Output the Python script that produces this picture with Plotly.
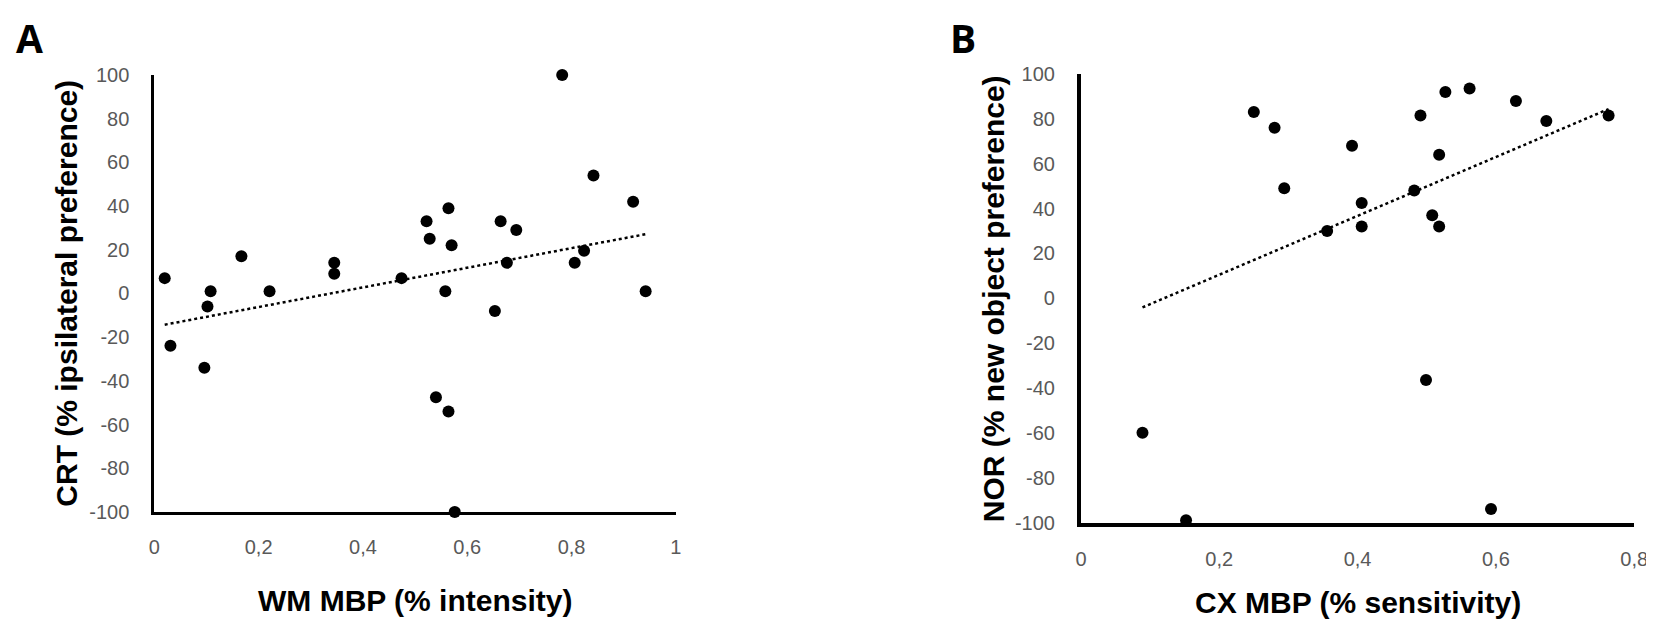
import numpy as np
import plotly.graph_objects as go

# ---------------- data ----------------
wm_mbp = [0.02, 0.031, 0.096, 0.102, 0.108, 0.167, 0.221, 0.345, 0.345, 0.474,
          0.522, 0.528, 0.54, 0.558, 0.564, 0.564, 0.57, 0.576, 0.653, 0.664,
          0.676, 0.694, 0.782, 0.806, 0.824, 0.842, 0.918, 0.942]
crt = [7, -24, -34, -6, 1, 17, 1, 14, 9, 7,
       33, 25, -47.5, 1, 39, -54, 22, -100, -8, 33,
       14, 29, 100, 14, 19.5, 54, 42, 1]

cx_mbp = [0.089, 0.152, 0.25, 0.28, 0.28, 0.294, 0.356, 0.392, 0.406, 0.406,
          0.482, 0.491, 0.499, 0.508, 0.518, 0.518, 0.527, 0.562, 0.593, 0.629,
          0.651, 0.673, 0.763]
nor = [-60, -99, 83, 102, 76, 49, 30, 68, 42.5, 32,
       48, 81.5, -36.5, 37, 64, 32, 92, 93.5, -94, 88,
       102, 79, 81.5]

y_ticks = [-100, -80, -60, -40, -20, 0, 20, 40, 60, 80, 100]
y_ticktext = ["-100", "-80", "-60", "-40", "-20", "0", "20", "40", "60", "80", "100"]
xa_ticks = [0, 0.2, 0.4, 0.6, 0.8, 1.0]
xa_ticktext = ["0", "0,2", "0,4", "0,6", "0,8", "1"]
xb_ticks = [0, 0.2, 0.4, 0.6, 0.8]
xb_ticktext = ["0", "0,2", "0,4", "0,6", "0,8"]

labels = {"A": ("WM MBP (% intensity)", "CRT (% ipsilateral preference)"),
          "B": ("CX MBP (% sensitivity)", "NOR (% new object preference)")}

# ---------------- figure ----------------
W, H = 1654, 621
TICKFONT = dict(family="Liberation Sans, Arial", size=20, color="#595959")
TITLEFONT = dict(family="Liberation Sans, Arial", size=30, color="black")


def trend(x, y):
    x = np.asarray(x, float)
    y = np.asarray(y, float)
    k, b = np.polyfit(x, y, 1)
    xs = np.array([x.min(), x.max()])
    return xs, k * xs + b


fig = go.Figure()

for xd, yd, xa, ya in [(wm_mbp, crt, "x", "y"), (cx_mbp, nor, "x2", "y2")]:
    tx, ty = trend(xd, yd)
    fig.add_trace(go.Scatter(x=tx, y=ty, mode="lines", xaxis=xa, yaxis=ya,
                             line=dict(color="black", width=2.5, dash="dot"),
                             showlegend=False, hoverinfo="skip", cliponaxis=False))
    fig.add_trace(go.Scatter(x=xd, y=yd, mode="markers", xaxis=xa, yaxis=ya,
                             marker=dict(color="black", size=12),
                             showlegend=False, cliponaxis=False))


def px_x(p):
    return p / W


def px_y(p):
    return (H - p) / H


axis_common = dict(showgrid=False, zeroline=False, ticks="", tickfont=TICKFONT,
                   showline=True, linecolor="black", fixedrange=True)

fig.update_layout(
    width=W, height=H,
    margin=dict(l=0, r=0, t=0, b=0),
    paper_bgcolor="white", plot_bgcolor="white",
    showlegend=False,
    xaxis=dict(domain=[px_x(142), px_x(670)], range=[0, 1], tickvals=xa_ticks,
               ticktext=xa_ticktext, anchor="y", linewidth=3, ticklabelstandoff=15,
               **axis_common),
    yaxis=dict(domain=[px_y(511), px_y(58)], range=[-100, 100], tickvals=y_ticks,
               ticktext=y_ticktext, anchor="x", linewidth=3, ticklabelstandoff=18,
               **axis_common),
    xaxis2=dict(domain=[px_x(1080), px_x(1640)], range=[0, 0.8], tickvals=xb_ticks,
                ticktext=xb_ticktext, anchor="y2", linewidth=4, ticklabelstandoff=15,
                **axis_common),
    yaxis2=dict(domain=[px_y(522), px_y(57)], range=[-100, 100], tickvals=y_ticks,
                ticktext=y_ticktext, anchor="x2", linewidth=4, ticklabelstandoff=18,
                **axis_common),
)

ann = []
for key, xa, ya, xshift_y, yshift_x, lx in [("A", "x", "y", -88, -89, 16),
                                             ("B", "x2", "y2", -88, -80, 961)]:
    xt, yt = labels[key]
    ann.append(dict(text=f"<b>{xt}</b>", xref=f"{xa} domain", yref=f"{ya} domain",
                    x=0.5, y=0, xanchor="center", yanchor="middle", yshift=yshift_x,
                    showarrow=False, font=TITLEFONT))
    ann.append(dict(text=f"<b>{yt}</b>", xref=f"{xa} domain", yref=f"{ya} domain",
                    x=0, y=0.5, xanchor="center", yanchor="middle", xshift=xshift_y,
                    textangle=-90, showarrow=False, font=TITLEFONT))
    ann.append(dict(text=f"<b>{key}</b>", xref="paper", yref="paper",
                    x=px_x(lx), y=px_y(19), xanchor="center", yanchor="middle",
                    showarrow=False, font=dict(family="Open Sans, Liberation Sans", size=39, color="black")))

fig.update_layout(annotations=ann)

fig.write_html("out.html")
